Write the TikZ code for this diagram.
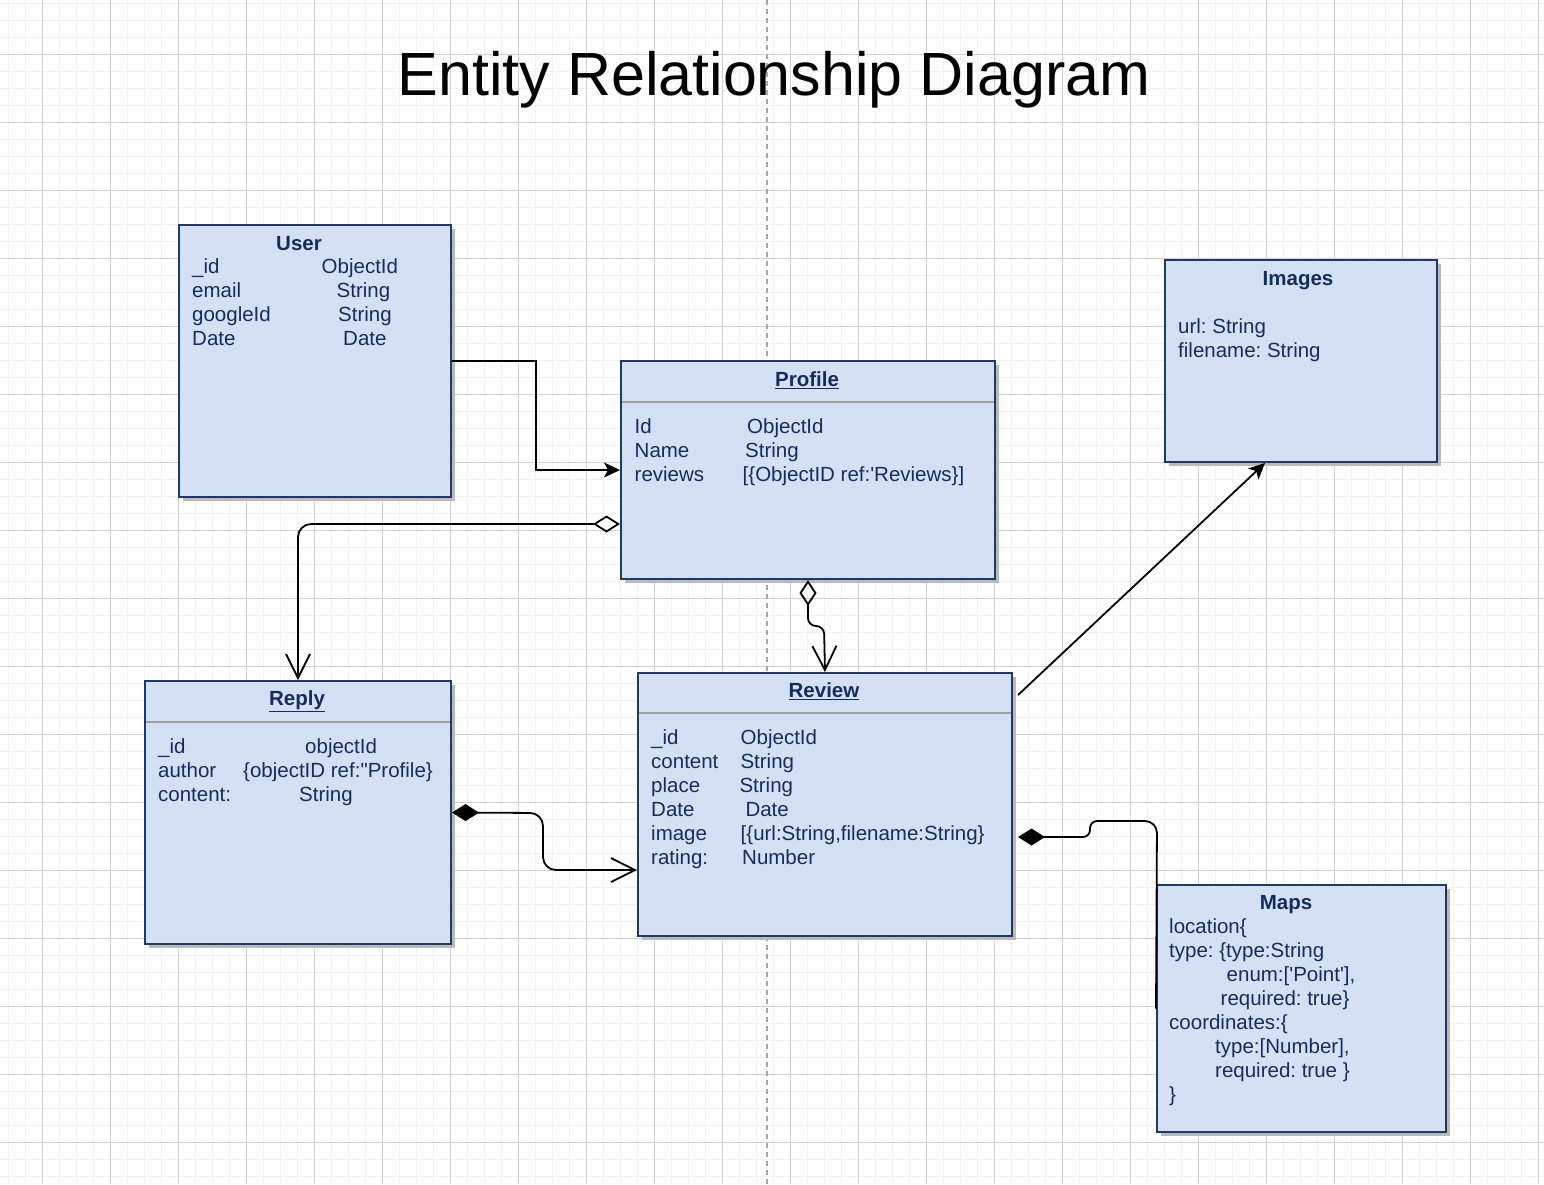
\documentclass[tikz,border=0pt]{standalone}
\usepackage{fontspec}
\setmainfont{Liberation Sans}
\usetikzlibrary{arrows.meta,calc,shadows}
\definecolor{boxfill}{RGB}{212,225,245}
\definecolor{boxdraw}{RGB}{32,56,100}
\definecolor{textcol}{RGB}{22,45,92}
\definecolor{gridminor}{RGB}{242,242,242}
\definecolor{gridmajor}{RGB}{208,208,208}
\definecolor{sepcol}{RGB}{160,160,160}
\newcommand{\bodyfont}{\fontsize{20.5}{24}\selectfont\frenchspacing}
\tikzset{
  erbox/.style={draw=boxdraw, line width=2pt, fill=boxfill, inner sep=0pt,
    drop shadow={shadow xshift=3.5pt, shadow yshift=-3.5pt, fill=black!27, opacity=1}},
  txt/.style={anchor=west, inner sep=0pt, text height=14.7pt, text depth=0pt,
    font=\bodyfont, text=textcol},
  ttl/.style={anchor=center, inner sep=0pt, text height=14.7pt, text depth=0pt,
    font=\bodyfont\bfseries, text=textcol},
  sepline/.style={draw=sepcol, line width=2pt},
  conn/.style={draw=black, line width=1.8pt},
  filltip/.style={-{Stealth[length=16pt,width=15pt,inset=4pt]}},
}
\begin{document}
\begin{tikzpicture}[x=1pt,y=-1pt]
\useasboundingbox (0,0) rectangle (1544,1184);
\fill[white] (0,0) rectangle (1544,1184);
% grid
\foreach \i in {0,...,90} {
  \draw[gridminor, line width=1.6pt] ({8.3+17*\i},0) -- ({8.3+17*\i},1184);
}
\foreach \i in {0,...,69} {
  \draw[gridminor, line width=1.6pt] (0,{3.3+17*\i}) -- (1544,{3.3+17*\i});
}
\foreach \i in {0,...,22} {
  \draw[gridmajor, line width=1pt] ({42.3+68*\i},0) -- ({42.3+68*\i},1184);
}
\foreach \i in {0,...,16} {
  \draw[gridmajor, line width=1pt] (0,{54.3+68*\i}) -- (1544,{54.3+68*\i});
}
\draw[black!35, line width=1.5pt, dash pattern=on 5pt off 4pt] (767,0) -- (767,1184);

% title
\node[inner sep=0pt, font=\fontsize{61}{70}\selectfont, text height=44pt, text depth=0pt] (title) at (774,73) {Entity Relationship Diagram};

% boxes
\node[erbox, minimum width=272pt, minimum height=272pt] (user) at (315,361) {};
\node[erbox, minimum width=374pt, minimum height=218pt] (profile) at (808,470) {};
\node[erbox, minimum width=272pt, minimum height=202pt] (images) at (1301,361) {};
\node[erbox, minimum width=306pt, minimum height=263pt] (reply) at (298,812.5) {};
\node[erbox, minimum width=374pt, minimum height=263pt] (review) at (825,804.5) {};
\node[erbox, minimum width=289pt, minimum height=247pt] (maps) at (1301.5,1008.5) {};

% separators
\draw[sepline] (622,402) -- (994,402);
\draw[sepline] (146,721.5) -- (450,721.5);
\draw[sepline] (639,713) -- (1011,713);

% User
\node[ttl] (userT) at (299,243) {User};
\node[txt] (u1a) at (192,266.5) {\_id};
\node[txt] (u1b) at (321.5,266.5) {ObjectId};
\node[txt] (u2a) at (192,290.5) {email};
\node[txt] (u2b) at (336.5,290.5) {String};
\node[txt] (u3a) at (192,314.5) {googleId};
\node[txt] (u3b) at (338,314.5) {String};
\node[txt] (u4a) at (192,338.5) {Date};
\node[txt] (u4b) at (343,338.5) {Date};

% Profile
\node[ttl] (profileT) at (807,379) {\underline{Profile}};
\node[txt] (p1a) at (634.5,426) {Id};
\node[txt] (p1b) at (747,426) {ObjectId};
\node[txt] (p2a) at (634.5,450) {Name};
\node[txt] (p2b) at (745,450) {String};
\node[txt] (p3a) at (634.5,474) {reviews};
\node[txt] (p3b) at (742.5,474) {[\{ObjectID ref:\textquotesingle Reviews\}]};

% Images
\node[ttl] (imagesT) at (1298,278) {Images};
\node[txt] (i1) at (1178,326) {url: String};
\node[txt] (i2) at (1178,350) {filename: String};

% Reply
\node[ttl] (replyT) at (297,698.5) {\underline{Reply}};
\node[txt] (r1a) at (158,746) {\_id};
\node[txt] (r1b) at (305,746) {objectId};
\node[txt] (r2a) at (158,770) {author};
\node[txt] (r2b) at (243,770) {\{objectID ref:\textquotedbl Profile\}};
\node[txt] (r3a) at (158,794) {content:};
\node[txt] (r3b) at (299,794) {String};

% Review
\node[ttl] (reviewT) at (824,690) {\underline{Review}};
\node[txt] (v1a) at (651,737) {\_id};
\node[txt] (v1b) at (740.5,737) {ObjectId};
\node[txt] (v2a) at (651,761) {content};
\node[txt] (v2b) at (740.3,761) {String};
\node[txt] (v3a) at (651,785) {place};
\node[txt] (v3b) at (739.3,785) {String};
\node[txt] (v4a) at (651,809) {Date};
\node[txt] (v4b) at (745.3,809) {Date};
\node[txt] (v5a) at (651,833) {image};
\node[txt] (v5b) at (740.5,833) {[\{url:String,filename:String\}};
\node[txt] (v6a) at (651,857) {rating:};
\node[txt] (v6b) at (742,857) {Number};

% Maps
\node[ttl] (mapsT) at (1286,902) {Maps};
\node[txt] (m1) at (1169,926.5) {location\{};
\node[txt] (m2) at (1169,950.5) {type: \{type:String};
\node[txt] (m3) at (1226.5,974.5) {enum:[\textquotesingle Point\textquotesingle],};
\node[txt] (m4) at (1220.5,998) {required: true\}};
\node[txt] (m5) at (1169,1022) {coordinates:\{};
\node[txt] (m6) at (1215,1046) {type:[Number],};
\node[txt] (m7) at (1215,1070) {required: true \}};
\node[txt] (m8) at (1169,1094) {\}};

% connectors
\draw[conn, filltip] (user.east) -- (536,361) |- (profile.west);
\draw[conn, {Diamond[open,length=27pt,width=17pt,line width=1.8pt]}-{Straight Barb[length=24pt,width=24pt,line width=1.8pt]}, rounded corners=13pt]
  ($(profile.west)+(0,54)$) -- (298,524) -- (reply.north);
\draw[conn, {Diamond[open,length=26pt,width=17pt,line width=1.8pt]}-{Straight Barb[length=24pt,width=24pt,line width=1.8pt]}, rounded corners=8pt]
  (profile.south) -- (808,626) -- (824,626) -- (review.north);
\draw[conn, {Diamond[length=27pt,width=17pt]}-{Straight Barb[length=24pt,width=24pt,line width=1.8pt]}, rounded corners=13pt]
  (reply.east) -- (543,813) -- (543,870) -- ($(review.west)+(0,65.5)$);
\draw[conn, filltip] ($(review.north east)+(5,23)$) -- ($(images.south west)+(101,0)$);
\draw[conn, -{Diamond[length=27pt,width=17pt]}, rounded corners=12pt]
  (maps.west) -- (1157,821) [rounded corners=7pt] -- (1090,821) -- (1090,837) -- ($(review.east)+(5,32.5)$);
\end{tikzpicture}
\end{document}
